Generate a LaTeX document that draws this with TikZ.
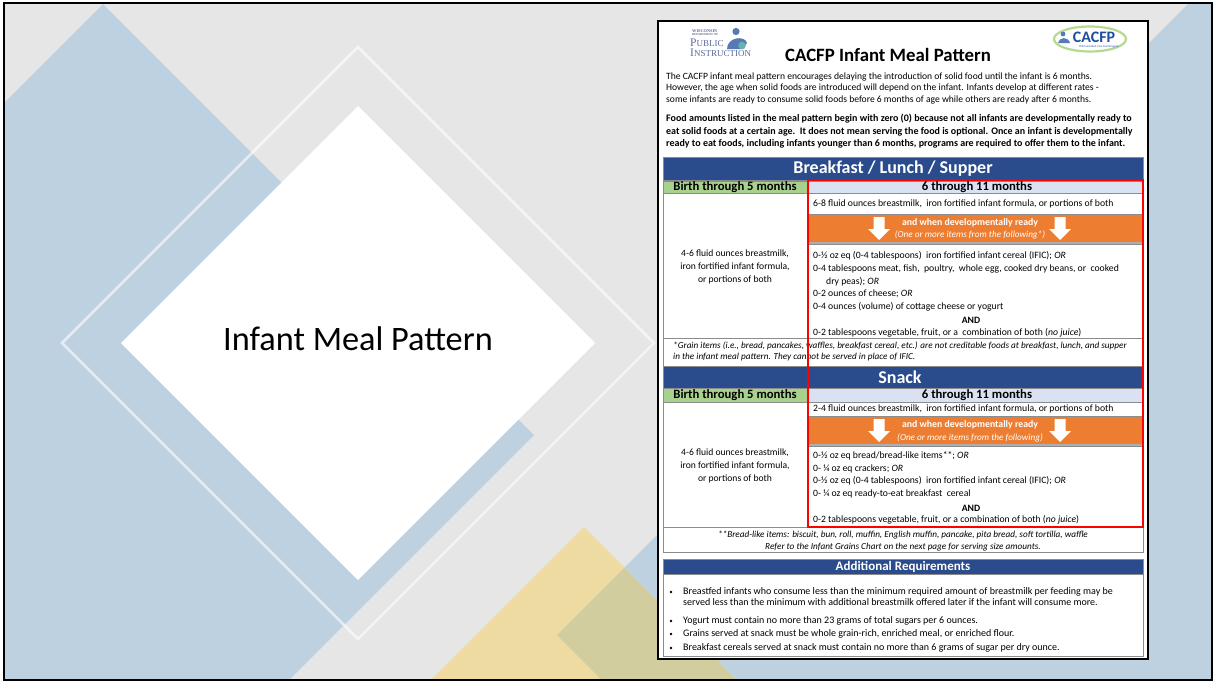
\documentclass[tikz,border=0pt]{standalone}
\usepackage{fontspec}
\setmainfont{Carlito}
\newfontfamily\pifont{Liberation Serif}
\usetikzlibrary{positioning}

\definecolor{slidegray}{HTML}{E7E6E6}
\definecolor{slideblue}{HTML}{BED1E1}
\definecolor{slideyellow}{HTML}{EEDBA1}
\definecolor{slideolive}{HTML}{D2CD9F}
\definecolor{barblue}{HTML}{2B4C8C}
\definecolor{agegreen}{HTML}{A9D18E}
\definecolor{agelilac}{HTML}{D9E1F2}
\definecolor{readyorange}{HTML}{ED7D31}
\definecolor{rulegray}{HTML}{8C8C8C}
\definecolor{piblue}{HTML}{5A6A9E}
\definecolor{logoblue}{HTML}{1F4E9C}
\definecolor{logogreen}{HTML}{B5D98F}

\newcommand{\fsz}[2]{\fontsize{#1}{#2}\selectfont}

\begin{document}
\begin{tikzpicture}[x=1pt,y=-1pt,
    bar/.style={fill=barblue,draw=rulegray,line width=0.6},
    cell/.style={fill=white,draw=rulegray,line width=0.6},
    bartext/.style={text=white,font=\bfseries\fsz{18}{18}},
    agetext/.style={font=\bfseries\fsz{12.7}{12.7}},
    body/.style={anchor=west,align=left,inner sep=0,font=\fsz{9.7}{12.7}},
    readytext/.style={text=white,inner sep=0},
    note/.style={align=left,inner sep=0,font=\itshape\fsz{9.2}{11.2}},
    bullet/.style={anchor=west,align=left,inner sep=0,font=\fsz{10}{11.3}}]

  \useasboundingbox (0,0) rectangle (1214,683);
  \fill[white] (0,0) rectangle (1214,683);

  % slide background
  \begin{scope}
    \clip (4,3) rectangle (1212,680);
    \fill[slidegray] (4,3) rectangle (1212,680);
    \fill[slideblue] (103,4) -- (534,435) -- (103,866) -- (-328,435) -- cycle;
    \fill[slideblue] (557,635) -- (1248,-56) -- (1939,635) -- (1248,1326) -- cycle;
    \fill[slideyellow] (584,527) -- (884,827) -- (284,827) -- cycle;
    \begin{scope}
      \clip (584,527) -- (884,827) -- (284,827) -- cycle;
      \fill[slideolive] (557,635) -- (1248,-56) -- (1939,635) -- (1248,1326) -- cycle;
    \end{scope}
    \draw[white,opacity=0.6,line width=2.5] (358,47) -- (654,343) -- (358,639) -- (62,343) -- cycle;
    \fill[white] (358,106) -- (595,343) -- (358,580) -- (121,343) -- cycle;
  \end{scope}
  \draw[line width=1.5] (4,3) rectangle (1212,680);
  \node (slidetitle) at (358,339) {\fsz{34.3}{34.3}Infant Meal Pattern};

  % the page
  \draw[fill=white,line width=1.4] (658,21) rectangle (1148,659);

  % logos and title
  \begin{scope}[every node/.style={anchor=west,inner sep=0,text=piblue}]
    \node[font=\pifont\bfseries\fsz{4.3}{4.3}] (piwis) at (692,31) {WISCONSIN};
    \node[font=\pifont\bfseries\fsz{3}{3}] (pidept) at (692,34.5) {DEPARTMENT OF};
    \node[font=\pifont\fsz{11.5}{11.5}] (pipub) at (690,42.5) {P\fsz{9}{9}UBLIC};
    \node[font=\pifont\fsz{11.5}{11.5}] (piins) at (690,53) {I\fsz{9}{9}NSTRUCTION};
  \end{scope}
  \fill[logoblue!75] (736,31.5) circle (3.6);
  \fill[logoblue!75] (727,49) .. controls (727,37) and (745,35) .. (747,43) -- (741,49) -- cycle;
  \fill[teal!60] (742,45.5) circle (3.8);

  \node[font=\bfseries\fsz{18.8}{18.8}] (doctitle) at (888,55) {CACFP Infant Meal Pattern};

  \draw[logogreen,line width=2.2,fill=white] (1090,39) ellipse (36 and 12.5);
  \fill[logoblue!75] (1063,34) circle (2.4);
  \fill[logoblue!75] (1058,43) .. controls (1059,37) and (1068,36) .. (1070,43) -- cycle;
  \node[font=\bfseries\fsz{16}{16},text=logoblue] (cacfp) at (1094,37) {CACFP};
  \node[font=\fsz{2.8}{2.8},text=logoblue,inner sep=0] (cacfpsub) at (1099,47) {Child and Adult Care Food Program};

  % introduction
  \node[anchor=north west,align=left,inner sep=0,font=\fsz{9.6}{11.6}] (intro) at (666,72.5)
    {The CACFP infant meal pattern encourages delaying the introduction of solid food until the infant is 6 months.\\
     However, the age when solid foods are introduced will depend on the infant. Infants develop at different rates -\\
     some infants are ready to consume solid foods before 6 months of age while others are ready after 6 months.};
  \node[anchor=north west,align=left,inner sep=0,font=\bfseries\fsz{10}{12.4}] (amounts) at (666,114)
    {Food amounts listed in the meal pattern begin with zero (0) because not all infants are developmentally ready to\\
     eat solid foods at a certain age.\ \ It does not mean serving the food is optional. Once an infant is developmentally\\
     ready to eat foods, including infants younger than 6 months, programs are required to offer them to the infant.};

  % breakfast / lunch / supper
  \draw[bar] (663,157) rectangle (1143,180);
  \node[bartext] (bls) at (893,169) {Breakfast / Lunch / Supper};
  \draw[fill=agegreen,draw=rulegray] (663,181) rectangle (807,193);
  \node[agetext] (birth1) at (735,187) {Birth through 5 months};
  \draw[fill=agelilac,draw=rulegray] (807,181) rectangle (1143,193);
  \node[agetext] (older1) at (977,187) {6 through 11 months};
  \draw[cell] (663,193) rectangle (807,338);
  \node[align=center,font=\fsz{9.6}{13}] (young1) at (735,267)
    {4-6 fluid ounces breastmilk,\\ iron fortified infant formula,\\ or portions of both};
  \draw[cell] (807,193) rectangle (1143,214);
  \node[body] (milk1) at (813,204) {6-8 fluid ounces breastmilk,\ \ iron fortified infant formula, or portions of both};
  \fill[rulegray!70] (807,242) rectangle (1143,244);
  \fill[readyorange] (807,215) rectangle (1143,242);
  \node[readytext,font=\bfseries\fsz{9.8}{9.8}] (ready1) at (970,223) {and when developmentally ready};
  \node[readytext,font=\itshape\fsz{9.2}{9.2}] (items1) at (970,235) {(One or more items from the following*)};
  \draw[cell] (807,244) rectangle (1143,338);
  \node[body,anchor=north west] (solids1) at (813,251.5)
    {0-½ oz eq (0-4 tablespoons)\ \ iron fortified infant cereal (IFIC); \textit{OR}\\
     0-4 tablespoons meat, fish,\ \ poultry,\ \ whole egg, cooked dry beans, or\ \ cooked\\
     \hspace*{13pt}dry peas); \textit{OR}\\
     0-2 ounces of cheese; \textit{OR}\\
     0-4 ounces (volume) of cottage cheese or yogurt\\
     \\
     0-2 tablespoons vegetable, fruit, or a\ \ combination of both (\textit{no juice})};
  \node[font=\bfseries\fsz{9.7}{9.7}] (and1) at (971,320) {AND};
  \draw[cell] (663,338) rectangle (1143,366);
  \node[note,anchor=north west] (grainnote) at (673,341.5)
    {*Grain items (i.e., bread, pancakes, waffles, breakfast cereal, etc.) are not creditable foods at breakfast, lunch, and supper\\
     in the infant meal pattern. They cannot be served in place of IFIC.};

  % snack
  \draw[bar] (663,366) rectangle (1143,388);
  \node[bartext] (snack) at (900,377) {Snack};
  \draw[fill=agegreen,draw=rulegray] (663,388) rectangle (807,402);
  \node[agetext] (birth2) at (735,395) {Birth through 5 months};
  \draw[fill=agelilac,draw=rulegray] (807,388) rectangle (1143,402);
  \node[agetext] (older2) at (977,395) {6 through 11 months};
  \draw[cell] (663,402) rectangle (807,527);
  \node[align=center,font=\fsz{9.6}{13}] (young2) at (735,466)
    {4-6 fluid ounces breastmilk,\\ iron fortified infant formula,\\ or portions of both};
  \draw[cell] (807,402) rectangle (1143,416);
  \node[body] (milk2) at (813,409) {2-4 fluid ounces breastmilk,\ \ iron fortified infant formula, or portions of both};
  \fill[rulegray!70] (807,444) rectangle (1143,446);
  \fill[readyorange] (807,417) rectangle (1143,444);
  \node[readytext,font=\bfseries\fsz{9.8}{9.8}] (ready2) at (970,425) {and when developmentally ready};
  \node[readytext,font=\itshape\fsz{9.2}{9.2}] (items2) at (970,438) {(One or more items from the following)};
  \draw[cell] (807,446) rectangle (1143,527);
  \node[body,anchor=north west] (solids2) at (813,451.5)
    {0-½ oz eq bread/bread-like items**; \textit{OR}\\
     0- ¼ oz eq crackers; \textit{OR}\\
     0-½ oz eq (0-4 tablespoons)\ \ iron fortified infant cereal (IFIC); \textit{OR}\\
     0- ¼ oz eq ready-to-eat breakfast\ \ cereal\\
     \\
     0-2 tablespoons vegetable, fruit, or a combination of both (\textit{no juice})};
  \node[font=\bfseries\fsz{9.7}{9.7}] (and2) at (971,508) {AND};

  % arrows in the orange bands
  \foreach \ax/\ay in {879/217,1060/217,879/419,1060/419}
    \fill[white] (\ax-5.5,\ay) -- (\ax+5.5,\ay) -- (\ax+5.5,\ay+12) -- (\ax+11,\ay+12)
      -- (\ax,\ay+23) -- (\ax-11,\ay+12) -- (\ax-5.5,\ay+12) -- cycle;

  \draw[cell] (663,527) rectangle (1143,552);
  \node[note,align=center] (breadnote) at (903,541)
    {**Bread-like items: biscuit, bun, roll, muffin, English muffin, pancake, pita bread, soft tortilla, waffle\\
     Refer to the Infant Grains Chart on the next page for serving size amounts.};

  % additional requirements
  \draw[cell] (663,559) rectangle (1143,656);
  \draw[bar] (663,559) rectangle (1143,574);
  \node[text=white,font=\bfseries\fsz{13}{13}] (addreq) at (903,567) {Additional Requirements};
  \foreach \by in {592,621,634,648}
    \fill (671,\by) circle (1.3);
  \node[bullet,anchor=north west] (req1) at (683,587.5)
    {Breastfed infants who consume less than the minimum required amount of breastmilk per feeding may be\\
     served less than the minimum with additional breastmilk offered later if the infant will consume more.};
  \node[bullet] (req2) at (683,621) {Yogurt must contain no more than 23 grams of total sugars per 6 ounces.};
  \node[bullet] (req3) at (683,634) {Grains served at snack must be whole grain-rich, enriched meal, or enriched flour.};
  \node[bullet] (req4) at (683,648) {Breakfast cereals served at snack must contain no more than 6 grams of sugar per dry ounce.};

  % highlight
  \draw[red,line width=2.8] (808,180) rectangle (1143,527);
\end{tikzpicture}
\end{document}
